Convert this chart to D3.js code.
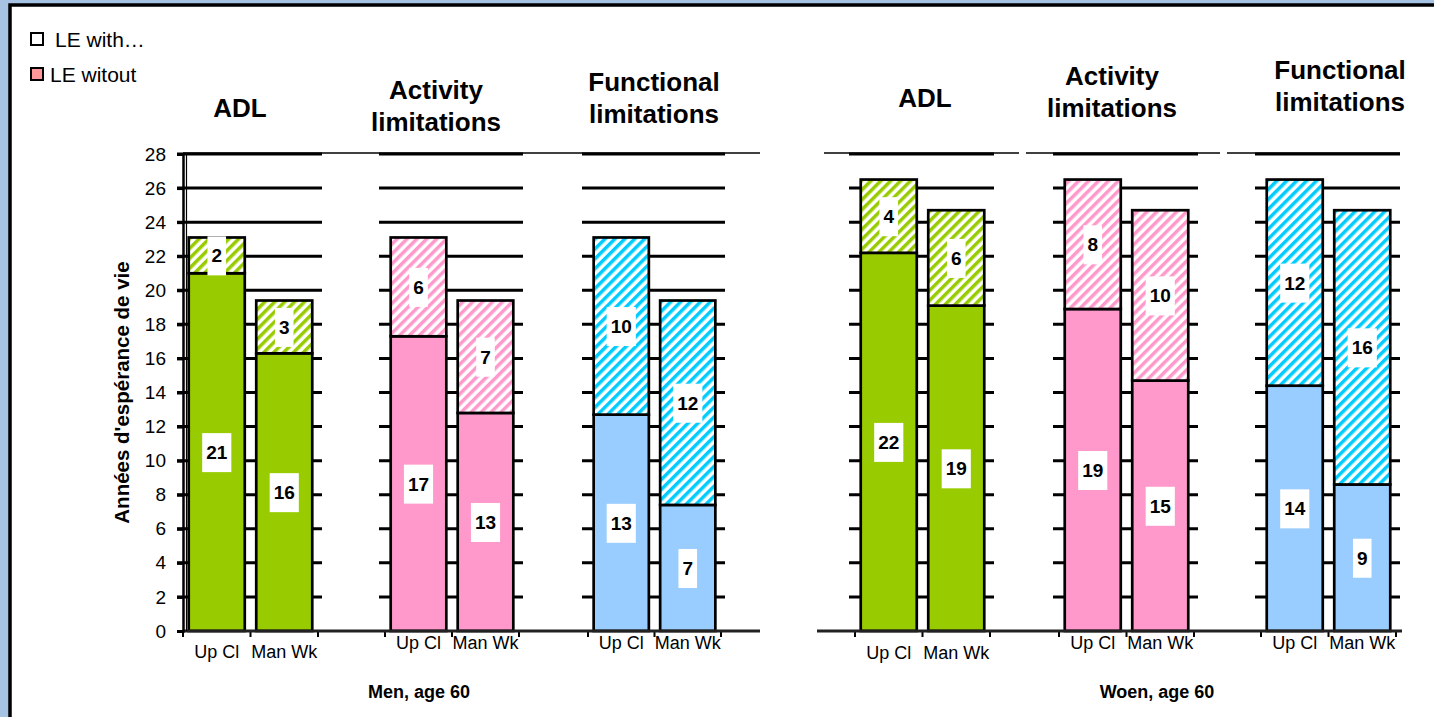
<!DOCTYPE html>
<html>
<head>
<meta charset="utf-8">
<script src="https://cdn.jsdelivr.net/npm/d3@7"></script>
<style>
  body { margin: 0; background: #a7c3e3; }
  svg { display: block; font-family: Arial, "Liberation Sans", sans-serif; }
</style>
</head>
<body>
<svg id="chart" width="1434" height="717"></svg>
<script>
// data (years of life expectancy at 60)
var categories = ["Up Cl", "Man Wk"];
var measureTitles = [["ADL"], ["Activity", "limitations"], ["Functional", "limitations"]];
var menWithout = [[21.0, 16.3], [17.3, 12.8], [12.7, 7.4]];
var menWith = [[2.1, 3.1], [5.8, 6.6], [10.4, 12.0]];
var womenWithout = [[22.2, 19.1], [18.9, 14.7], [14.4, 8.6]];
var womenWith = [[4.3, 5.6], [7.6, 10.0], [12.1, 16.1]];
var yTicks = [0, 2, 4, 6, 8, 10, 12, 14, 16, 18, 20, 22, 24, 26, 28];
var legendLabels = ["LE with\u2026", "LE witout"];
var yTitle = "Ann\u00e9es d'esp\u00e9rance de vie";

var solidColors = ["#99cc00", "#ff99cc", "#99ccff"];
var hatchColors = ["#99cc00", "#ff99cc", "#00ccff"];

var svg = d3.select("#chart");

// frame of the slide
svg.append("rect")
    .attr("x", 10).attr("y", 5)
    .attr("width", 2000).attr("height", 2000)
    .attr("fill", "#fff")
    .attr("stroke", "#000")
    .attr("stroke-width", 3.5);

// hatch patterns for "with" segments
var defs = svg.append("defs");
hatchColors.forEach(function (c, i) {
    var p = defs.append("pattern")
        .attr("id", "hatch" + i)
        .attr("patternUnits", "userSpaceOnUse")
        .attr("width", 7).attr("height", 7)
        .attr("patternTransform", "rotate(45)");
    p.append("rect").attr("width", 7).attr("height", 7).attr("fill", "#fff");
    p.append("rect").attr("width", 3.5).attr("height", 7).attr("fill", c);
});

var y = d3.scaleLinear()
    .domain([0, 28])
    .range([631, 154]);

var panels = [{
    label: "Men, age 60", labelX: 419,
    without: menWithout, withL: menWith,
    ranges: [[183, 318], [385, 519], [588, 721]],
    titleX: [240, 436, 654], titleY: [117, 99, 91],
    catY: [658, 649, 649],
    topLines: [[183, 760]], base: [183, 760], axis: true
}, {
    label: "Woen, age 60", labelX: 1157,
    without: womenWithout, withL: womenWith,
    ranges: [[855, 990], [1059, 1194], [1261, 1396]],
    titleX: [925, 1112, 1340], titleY: [107, 85, 79],
    catY: [659, 649, 649],
    topLines: [[824, 1019], [1026, 1220], [1227, 1400]], base: [817, 1402], axis: false
}];

panels.forEach(function (panel) {
    var g = svg.append("g");

    // thin plot-area top border
    panel.topLines.forEach(function (l) {
        g.append("line")
            .attr("x1", l[0]).attr("x2", l[1])
            .attr("y1", y(28) - 1).attr("y2", y(28) - 1)
            .attr("stroke", "#000").attr("stroke-width", 1.3);
    });

    panel.ranges.forEach(function (r, m) {
        var x = d3.scaleBand()
            .domain(categories)
            .range(r)
            .paddingInner(0.17)
            .paddingOuter(0.085);

        // gridlines
        g.append("g").selectAll("line")
            .data(yTicks.slice(1))
            .enter().append("line")
            .attr("x1", r[0] - 6).attr("x2", r[1] + 4)
            .attr("y1", function (d) { return y(d); })
            .attr("y2", function (d) { return y(d); })
            .attr("stroke", "#000").attr("stroke-width", 3);

        // category ticks under the baseline
        g.append("g").selectAll("line")
            .data([r[0], r[0] + x.step(), r[1]])
            .enter().append("line")
            .attr("x1", function (d) { return d; })
            .attr("x2", function (d) { return d; })
            .attr("y1", y(0)).attr("y2", y(0) + 6)
            .attr("stroke", "#000").attr("stroke-width", 2);

        var rows = categories.map(function (c, i) {
            var a = panel.without[m][i], b = panel.withL[m][i];
            return { cat: c, without: a, withL: b, total: a + b };
        });

        var bars = g.append("g").selectAll("g")
            .data(rows)
            .enter().append("g");

        // LE without (solid)
        bars.append("rect")
            .attr("x", function (d) { return x(d.cat); })
            .attr("width", x.bandwidth())
            .attr("y", function (d) { return y(d.without); })
            .attr("height", function (d) { return y(0) - y(d.without); })
            .attr("fill", solidColors[m])
            .attr("stroke", "#000").attr("stroke-width", 2.7);

        // LE with (hatched)
        bars.append("rect")
            .attr("x", function (d) { return x(d.cat); })
            .attr("width", x.bandwidth())
            .attr("y", function (d) { return y(d.total); })
            .attr("height", function (d) { return y(d.without) - y(d.total); })
            .attr("fill", "url(#hatch" + m + ")")
            .attr("stroke", "#000").attr("stroke-width", 2.7);

        // value labels in white boxes
        rows.forEach(function (d) {
            var cx = x(d.cat) + x.bandwidth() / 2;
            [[0, d.without], [d.without, d.total]].forEach(function (s) {
                var cy = (y(s[0]) + y(s[1])) / 2;
                var lg = g.append("g");
                var box = lg.append("rect").attr("fill", "#fff");
                var t = lg.append("text")
                    .attr("x", cx).attr("y", cy + 7)
                    .attr("text-anchor", "middle")
                    .attr("font-size", "19px")
                    .attr("font-weight", "bold")
                    .text(Math.round(s[1] - s[0]));
                var w = t.node().getComputedTextLength() + 8;
                box.attr("x", cx - w / 2).attr("width", w)
                    .attr("y", cy - 19).attr("height", 39);
            });
        });

        // category labels
        g.append("g").selectAll("text")
            .data(categories)
            .enter().append("text")
            .attr("x", function (d) { return x(d) + x.bandwidth() / 2; })
            .attr("y", panel.catY[m])
            .attr("text-anchor", "middle")
            .attr("font-size", "18px")
            .text(function (d) { return d; });

        // group titles
        g.append("text")
            .attr("x", panel.titleX[m])
            .attr("y", panel.titleY[m])
            .attr("text-anchor", "middle")
            .attr("font-size", "26px")
            .attr("font-weight", "bold")
            .selectAll("tspan")
            .data(measureTitles[m])
            .enter().append("tspan")
            .attr("x", panel.titleX[m])
            .attr("dy", function (d, i) { return i ? 32 : 0; })
            .text(function (d) { return d; });
    });

    // baseline
    g.append("line")
        .attr("x1", panel.base[0]).attr("x2", panel.base[1])
        .attr("y1", y(0)).attr("y2", y(0))
        .attr("stroke", "#222").attr("stroke-width", 3);

    if (panel.axis) {
        var axisY = g.append("g")
            .attr("transform", "translate(183,0)")
            .call(d3.axisLeft(y).tickValues(yTicks).tickSize(6).tickPadding(11));
        axisY.select(".domain")
            .attr("stroke", "#000").attr("stroke-width", 2.5);
        axisY.selectAll("line").attr("stroke", "#000").attr("stroke-width", 3);
        axisY.selectAll("text")
            .attr("font-size", "19px")
            .attr("font-family", "Arial, 'Liberation Sans', sans-serif")
            .attr("fill", "#000");

        g.append("line")
            .attr("x1", 186.5).attr("x2", 186.5)
            .attr("y1", y(28)).attr("y2", y(0))
            .attr("stroke", "#000").attr("stroke-width", 1.2);

        g.append("text")
            .attr("transform", "translate(129," + ((y(0) + y(28)) / 2) + ") rotate(-90)")
            .attr("text-anchor", "middle")
            .attr("font-size", "20.5px")
            .attr("font-weight", "bold")
            .text(yTitle);
    }

    // panel label below
    g.append("text")
        .attr("x", panel.labelX).attr("y", 698)
        .attr("text-anchor", "middle")
        .attr("font-size", "18px")
        .attr("font-weight", "bold")
        .text(panel.label);
});

// legend
var legend = svg.append("g");
legend.append("rect")
    .attr("x", 31).attr("y", 33).attr("width", 12).attr("height", 12)
    .attr("fill", "#fff").attr("stroke", "#000").attr("stroke-width", 2);
legend.append("text")
    .attr("x", 55).attr("y", 47).attr("font-size", "21px")
    .text(legendLabels[0]);
legend.append("rect")
    .attr("x", 31).attr("y", 68).attr("width", 12).attr("height", 12)
    .attr("fill", "#ff9999").attr("stroke", "#000").attr("stroke-width", 2);
legend.append("text")
    .attr("x", 50).attr("y", 82).attr("font-size", "21px")
    .text(legendLabels[1]);
</script>
</body>
</html>
